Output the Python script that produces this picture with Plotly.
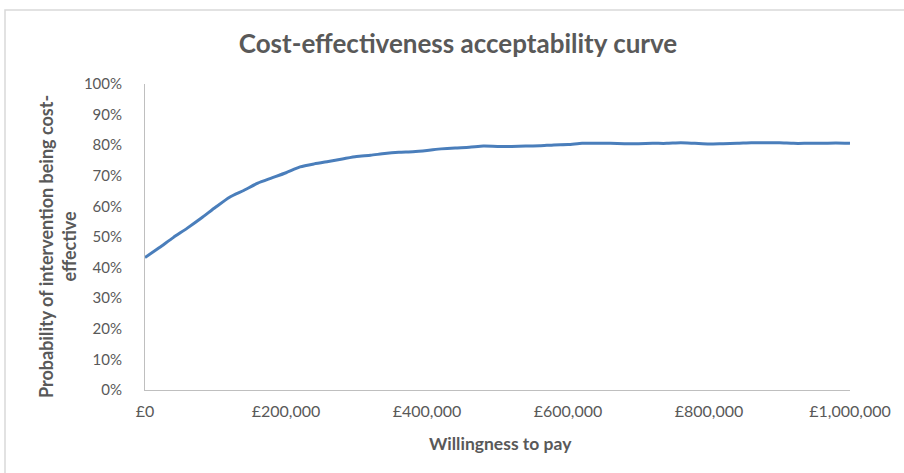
import plotly.graph_objects as go

wtp = [i * 20000 for i in range(51)]
prob = [43.3, 46.5, 49.8, 52.9, 56.2, 59.7, 63.0, 65.2, 67.6, 69.3,
        71.0, 72.9, 73.9, 74.7, 75.5, 76.3, 76.7, 77.3, 77.7, 77.9,
        78.3, 78.8, 79.1, 79.3, 79.7, 79.6, 79.6, 79.7, 79.8, 80.1,
        80.2, 80.6, 80.6, 80.6, 80.5, 80.5, 80.6, 80.6, 80.8, 80.6,
        80.4, 80.5, 80.6, 80.8, 80.8, 80.8, 80.6, 80.6, 80.6, 80.7,
        80.6]
prob_frac = [p / 100 for p in prob]

x_ticks = [0, 200000, 400000, 600000, 800000, 1000000]
x_tick_labels = ["£0", "£200,000", "£400,000", "£600,000", "£800,000", "£1,000,000"]
y_ticks = [i / 10 for i in range(11)]
y_tick_labels = [f"{i*10}%" for i in range(11)]

FONT = "Lato"
GREY = "#595959"

fig = go.Figure()
fig.add_trace(go.Scatter(
    x=wtp, y=prob_frac, mode="lines",
    line=dict(color="#4A7EBB", width=3, shape="spline", smoothing=0.6),
    hoverinfo="skip", showlegend=False,
))

fig.update_layout(
    width=904, height=473,
    margin=dict(l=145, r=54, t=84, b=83),
    paper_bgcolor="white", plot_bgcolor="white",
    font=dict(family=FONT, color=GREY, size=15),
    title=dict(text="<b>Cost-effectiveness acceptability curve</b>",
               x=458 / 904, xref="container", xanchor="center",
               y=1 - 44 / 473, yanchor="middle",
               font=dict(family=FONT, size=26, color=GREY)),
    xaxis=dict(range=[0, 1000000], tickvals=x_ticks, ticktext=x_tick_labels,
               showgrid=False, zeroline=False, showline=True, linecolor="#BFBFBF",
               linewidth=1, ticks="", ticklabelstandoff=7,
               tickfont=dict(family=FONT, size=16, color=GREY)),
    yaxis=dict(range=[0, 1], tickvals=y_ticks, ticktext=y_tick_labels,
               showgrid=False, zeroline=False, showline=True, linecolor="#BFBFBF",
               linewidth=1, ticks="", ticklabelstandoff=19,
               tickfont=dict(family=FONT, size=15, color=GREY)),
    shapes=[dict(type="rect", xref="paper", yref="paper",
                 x0=(5 - 145) / 705, x1=(915 - 145) / 705,
                 y0=(390 - 490) / 306, y1=(390 - 10) / 306,
                 line=dict(color="#D9D9D9", width=1.5), fillcolor="rgba(0,0,0,0)",
                 layer="below")],
    annotations=[
        dict(text="<b>Willingness to pay</b>", xref="paper", yref="paper",
             x=(501 - 145) / 705, y=(390 - 443) / 306, xanchor="center", yanchor="middle",
             showarrow=False, font=dict(family=FONT, size=17.5, color=GREY)),
        dict(text="<b>Probability of intervention being cost-<br>effective</b>",
             xref="paper", yref="paper", textangle=-90,
             x=(57 - 145) / 705, y=(390 - 247) / 306, xanchor="center", yanchor="middle",
             showarrow=False, font=dict(family=FONT, size=18, color=GREY)),
    ],
)

fig.write_html("out.html")
